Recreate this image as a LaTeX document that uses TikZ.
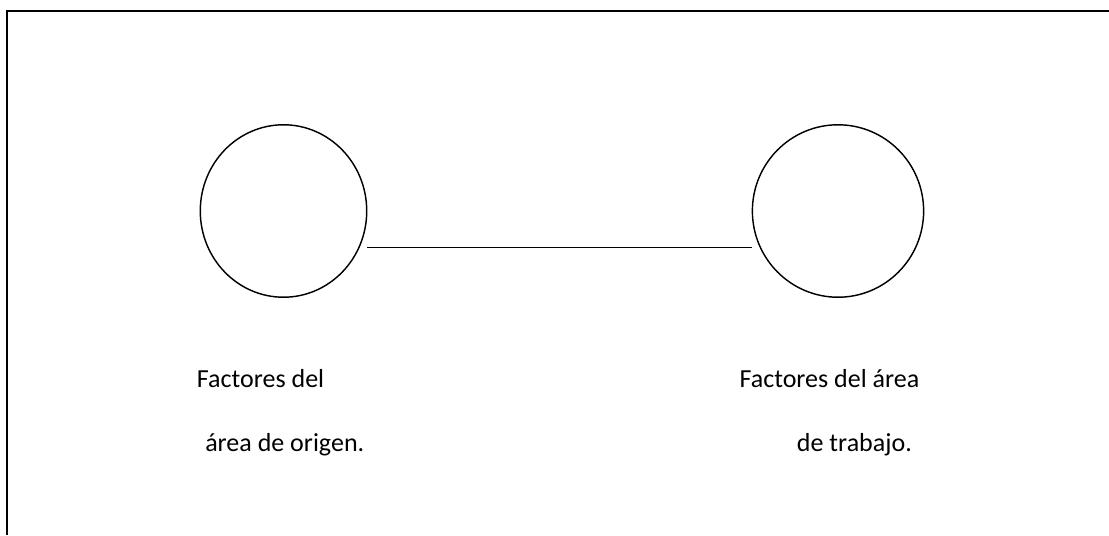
\documentclass[tikz,border=0pt]{standalone}
\usepackage{fontspec}
\setmainfont{Carlito}
\usepackage{tikz}
\usetikzlibrary{shapes.geometric}

\begin{document}
\begin{tikzpicture}[x=0.025cm,y=0.025cm]
\useasboundingbox (0,0) rectangle (1109,535);
% marco
\draw[line width=0.05cm] (1109,524)--(7,524)--(7,0);
\begin{scope}[line width=0.036cm]
    \node[draw, ellipse, inner sep=0, minimum width=4.16cm, minimum height=4.31cm] (origen) at (283.5,324) {};
    \node[draw, ellipse, inner sep=0, minimum width=4.28cm, minimum height=4.31cm] (trabajo) at (838,324) {};
\end{scope}
\draw[line width=0.03cm] ([yshift=-0.9125cm]origen.east) -- ([yshift=-0.9125cm]trabajo.west);
\begin{scope}[every node/.style={anchor=base west, inner sep=0, font=\fontsize{18.5}{22}\selectfont}]
    \node (origen1) at (196.7,148) {Factores del};
    \node (origen2) at (205,84) {área de origen.};
    \node (trabajo1) at (739.3,148) {Factores del área};
    \node (trabajo2) at (796.7,84) {de trabajo.};
\end{scope}
\end{tikzpicture}
\end{document}
